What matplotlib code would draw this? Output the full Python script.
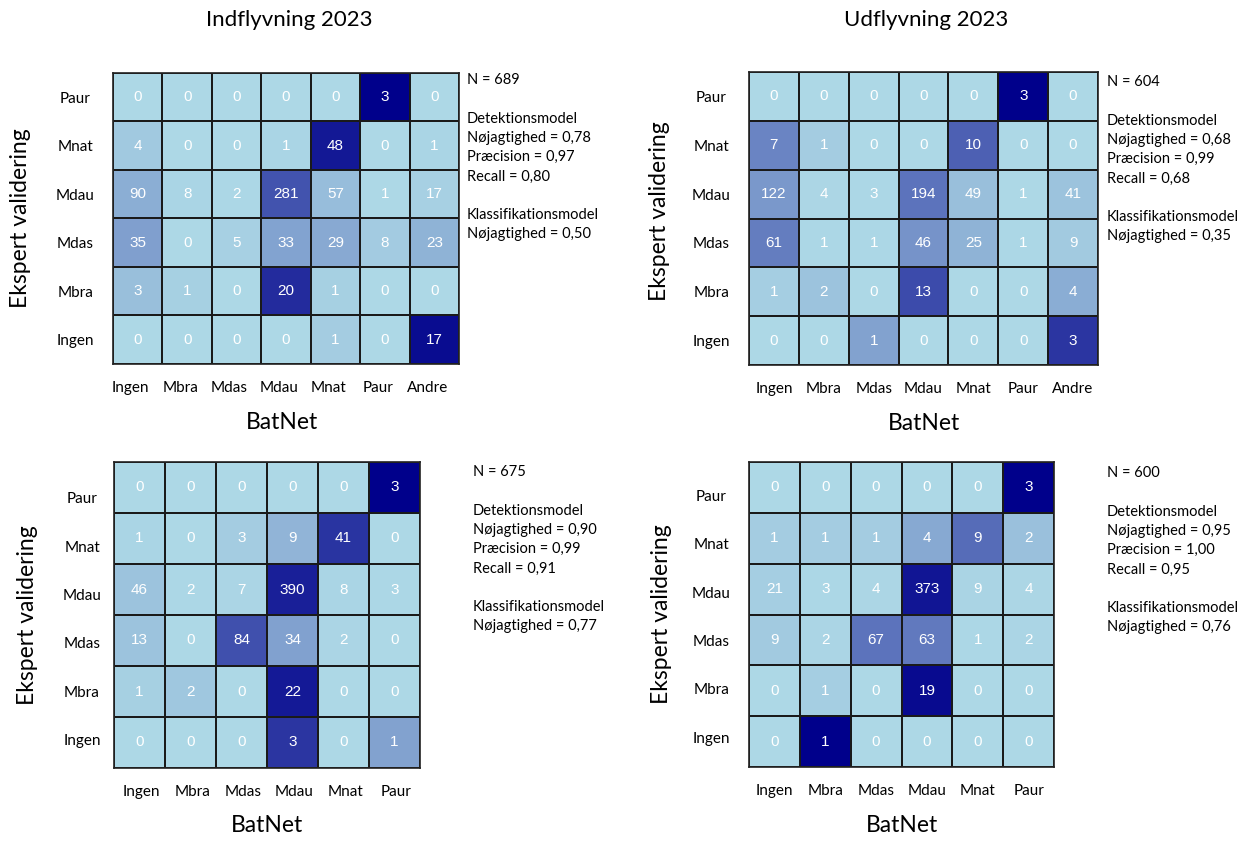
import numpy as np
import matplotlib
matplotlib.use('Agg')
import matplotlib.pyplot as plt
import matplotlib.transforms as mtrans
from matplotlib.colors import LinearSegmentedColormap

# rows = expert validation (top to bottom), cols = BatNet prediction
rows = ['Paur', 'Mnat', 'Mdau', 'Mdas', 'Mbra', 'Ingen']
cols_top = ['Ingen', 'Mbra', 'Mdas', 'Mdau', 'Mnat', 'Paur', 'Andre']
cols_bottom = ['Ingen', 'Mbra', 'Mdas', 'Mdau', 'Mnat', 'Paur']

ind_2023 = [[0, 0, 0, 0, 0, 3, 0],
            [4, 0, 0, 1, 48, 0, 1],
            [90, 8, 2, 281, 57, 1, 17],
            [35, 0, 5, 33, 29, 8, 23],
            [3, 1, 0, 20, 1, 0, 0],
            [0, 0, 0, 0, 1, 0, 17]]
ud_2023 = [[0, 0, 0, 0, 0, 3, 0],
           [7, 1, 0, 0, 10, 0, 0],
           [122, 4, 3, 194, 49, 1, 41],
           [61, 1, 1, 46, 25, 1, 9],
           [1, 2, 0, 13, 0, 0, 4],
           [0, 0, 1, 0, 0, 0, 3]]
ind_b = [[0, 0, 0, 0, 0, 3],
         [1, 0, 3, 9, 41, 0],
         [46, 2, 7, 390, 8, 3],
         [13, 0, 84, 34, 2, 0],
         [1, 2, 0, 22, 0, 0],
         [0, 0, 0, 3, 0, 1]]
ud_b = [[0, 0, 0, 0, 0, 3],
        [1, 1, 1, 4, 9, 2],
        [21, 3, 4, 373, 9, 4],
        [9, 2, 67, 63, 1, 2],
        [0, 1, 0, 19, 0, 0],
        [0, 1, 0, 0, 0, 0]]

titles = ['Indflyvning 2023', 'Udflyvning 2023', '', '']
n_values = [689, 604, 675, 600]
det_acc = ['0,78', '0,68', '0,90', '0,95']
det_prec = ['0,97', '0,99', '0,99', '1,00']
det_recall = ['0,80', '0,68', '0,91', '0,95']
cls_acc = ['0,50', '0,35', '0,77', '0,76']

W, H = 1246, 843
fig = plt.figure(figsize=(W / 100, H / 100), dpi=100)
cmap = LinearSegmentedColormap.from_list('lb', ['lightblue', 'darkblue'])
FONT = 'Lato'


def px_axes(l, t, r, b):
    return fig.add_axes([l / W, 1 - b / H, (r - l) / W, (b - t) / H])


def shift(lab, dx, dy):
    # dx, dy in pixels (dy positive = down)
    off = mtrans.ScaledTranslation(dx / 100, -dy / 100, fig.dpi_scale_trans)
    lab.set_transform(lab.get_transform() + off)


panels = [
    # data, columns, heatmap box (px), ylabel x, ytick pad, xtick shift,
    # text x, text y, ylabel y shift, ytick label offset (first, step)
    (ind_2023, cols_top, (113, 73, 459, 364), 21, 27, -7, 467, 80, 0, (0, 0)),
    (ud_2023, cols_top, (749, 72, 1098, 365), 659, 27, 0, 1107, 82, -7, (0, 0)),
    (ind_b, cols_bottom, (114, 462, 420, 768), 28, 23, 2, 473, 472, 0, (10, -2.5)),
    (ud_b, cols_bottom, (749, 462, 1054, 767), 661, 27, 0, 1107, 473, 0, (8, -2.5)),
]

for i, (data, cols, box, ylx, ypad, xshift, tx, ty, ydy, yoff) in enumerate(panels):
    mat = np.array(data, dtype=float)
    frac = mat / mat.sum(axis=1, keepdims=True)
    ax = px_axes(*box)
    ax.pcolormesh(frac, cmap=cmap, vmin=0, vmax=1, edgecolors='#1a1a1a', linewidth=1.2)
    ax.set_xlim(0, len(cols))
    ax.set_ylim(len(rows), 0)
    for r in range(len(rows)):
        for c in range(len(cols)):
            ax.text(c + 0.5, r + 0.5, f'{int(mat[r, c])}', ha='center', va='center',
                    color='white', fontsize=11, family='Liberation Sans')
    ax.set_xticks(np.arange(len(cols)) + 0.5)
    ax.set_xticklabels(cols, fontsize=11, family=FONT)
    ax.set_yticks(np.arange(len(rows)) + 0.5)
    ax.set_yticklabels(rows, fontsize=11, family=FONT, ha='center')
    ax.tick_params(length=0)
    ax.tick_params(axis='x', pad=12)
    ax.tick_params(axis='y', pad=ypad)
    if xshift:
        for lab in ax.get_xticklabels():
            shift(lab, xshift, 0)
    if yoff[0] or yoff[1]:
        for k, lab in enumerate(ax.get_yticklabels()):
            shift(lab, 0, yoff[0] + k * yoff[1])
    for s in ax.spines.values():
        s.set_color('#222222')
        s.set_linewidth(1.2)

    cx = (box[0] + box[2]) / 2
    if titles[i]:
        fig.text((cx + 3) / W, 1 - 20 / H, titles[i], ha='center', va='center', fontsize=16, family=FONT)
    fig.text((cx - 4 if i == 0 else cx) / W, 1 - (box[3] + 58) / H, 'BatNet', ha='center', va='center',
             fontsize=16.5, family=FONT)
    fig.text(ylx / W, 1 - ((box[1] + box[3]) / 2 + ydy) / H, 'Ekspert validering', rotation=90,
             ha='center', va='center', fontsize=16.5, family=FONT)

    lines = [f'N = {n_values[i]}', '', 'Detektionsmodel',
             f'Nøjagtighed = {det_acc[i]}', f'Præcision = {det_prec[i]}',
             f'Recall = {det_recall[i]}', '', 'Klassifikationsmodel',
             f'Nøjagtighed = {cls_acc[i]}']
    for k, line in enumerate(lines):
        if line:
            fig.text(tx / W, 1 - (ty + k * 19.3) / H, line, ha='left', va='center',
                     fontsize=10.5, family=FONT)

fig.savefig('out.png', dpi=100)
